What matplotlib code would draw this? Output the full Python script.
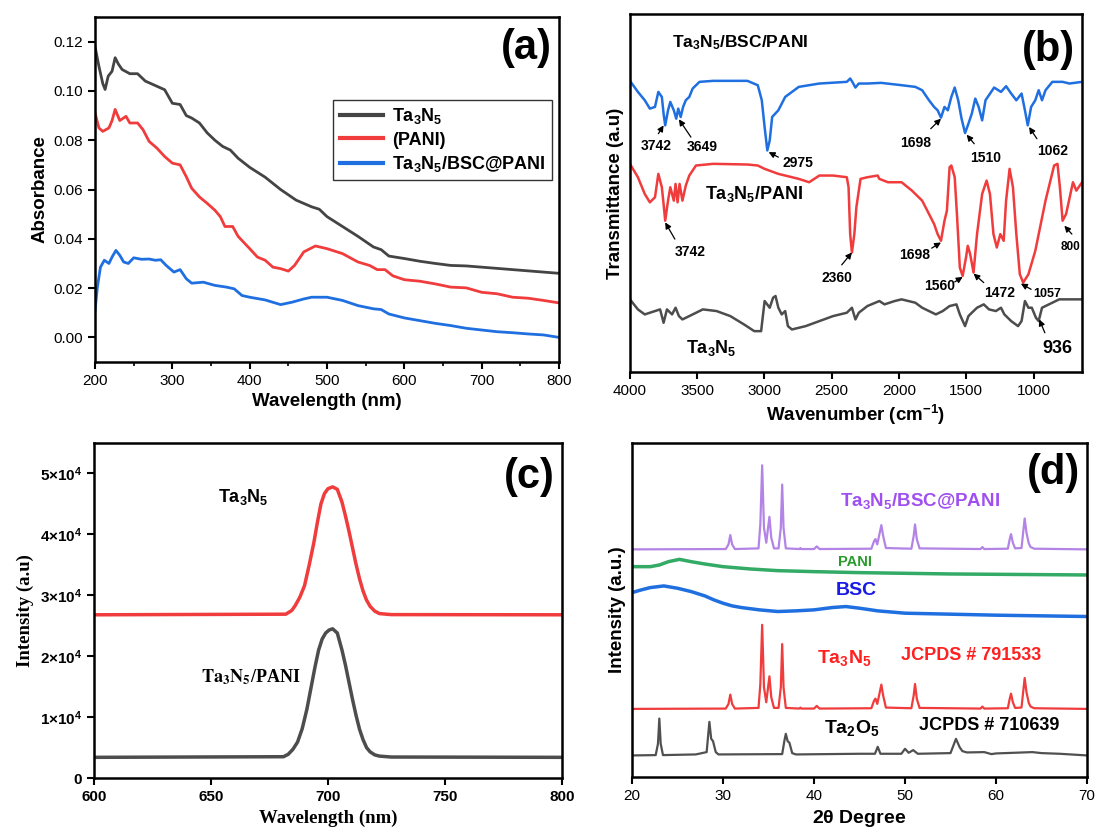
import matplotlib
matplotlib.use('Agg')
import matplotlib.pyplot as plt
from matplotlib.ticker import MultipleLocator

plt.rcParams['font.family'] = ['Liberation Sans', 'DejaVu Sans']
plt.rcParams['mathtext.fontset'] = 'custom'
plt.rcParams['mathtext.rm'] = 'Liberation Sans'
plt.rcParams['mathtext.bf'] = 'Liberation Sans:bold'
plt.rcParams['mathtext.it'] = 'Liberation Sans:italic'

# ---------------- (a) UV-vis absorbance ----------------
uv_ta3n5_x = [200, 205, 210, 213, 217, 222, 226, 230, 235, 245, 255, 265, 275, 290, 300, 310, 318, 325,
              335, 345, 355, 365, 375, 385, 400, 420, 440, 460, 480, 490, 500, 520, 540, 560, 570, 580,
              600, 620, 640, 660, 680, 700, 720, 740, 760, 780, 800]
uv_ta3n5_y = [0.118, 0.110, 0.103, 0.1006, 0.106, 0.108, 0.1135, 0.111, 0.1087, 0.107, 0.107, 0.104,
              0.1026, 0.1005, 0.095, 0.0945, 0.090, 0.089, 0.087, 0.083, 0.080, 0.0775, 0.076, 0.0727,
              0.069, 0.065, 0.060, 0.0557, 0.053, 0.052, 0.049, 0.045, 0.041, 0.0367, 0.0356, 0.033,
              0.032, 0.0309, 0.030, 0.0292, 0.029, 0.0285, 0.028, 0.0275, 0.027, 0.0265, 0.026]

uv_pani_x = [200, 205, 210, 218, 222, 226, 232, 240, 245, 255, 262, 270, 280, 290, 300, 310, 318, 325,
             335, 345, 355, 362, 368, 378, 385, 400, 410, 420, 430, 440, 450, 458, 470, 485, 500, 520,
             540, 555, 565, 575, 585, 600, 620, 640, 660, 680, 700, 720, 740, 760, 780, 800]
uv_pani_y = [0.091, 0.085, 0.0836, 0.085, 0.088, 0.0925, 0.088, 0.0897, 0.087, 0.087, 0.0843, 0.0795,
             0.0768, 0.0734, 0.0707, 0.070, 0.0652, 0.0605, 0.057, 0.0544, 0.0516, 0.049, 0.045, 0.045,
             0.041, 0.036, 0.0326, 0.0313, 0.0285, 0.0279, 0.0269, 0.0292, 0.0347, 0.0371, 0.036, 0.034,
             0.0306, 0.0292, 0.0275, 0.0275, 0.025, 0.0234, 0.0228, 0.0217, 0.0204, 0.0201, 0.0183,
             0.0177, 0.0163, 0.0159, 0.015, 0.014]

uv_comp_x = [200, 203, 207, 212, 218, 222, 227, 232, 237, 243, 250, 260, 270, 278, 285, 292, 302, 310,
             318, 325, 340, 355, 370, 380, 390, 400, 420, 440, 455, 470, 480, 500, 520, 540, 560, 570,
             580, 600, 620, 640, 660, 680, 700, 720, 740, 760, 780, 800]
uv_comp_y = [0.011, 0.0204, 0.0285, 0.0313, 0.030, 0.0326, 0.0353, 0.0333, 0.0306, 0.030, 0.0323,
             0.0317, 0.0318, 0.0313, 0.0315, 0.0292, 0.0265, 0.0275, 0.0238, 0.022, 0.0224, 0.0211,
             0.0204, 0.0197, 0.017, 0.0163, 0.0152, 0.0133, 0.0143, 0.0156, 0.0163, 0.0163, 0.015,
             0.0129, 0.0116, 0.0113, 0.0095, 0.0079, 0.0068, 0.0057, 0.0048, 0.0037, 0.003, 0.0023,
             0.0019, 0.0014, 0.0010, 0.000]

# ---------------- (b) FTIR ----------------
ir_bsc_pani = [(4000, 87.0), (3941, 83.7), (3890, 81.2), (3852, 78.7), (3814, 79.2), (3789, 83.7),
               (3763, 82.2), (3750, 77.2), (3738, 73.7), (3717, 78.2), (3700, 80.7), (3674, 78.2),
               (3656, 75.7), (3641, 78.7), (3623, 76.2), (3605, 79.2), (3585, 81.2), (3559, 82.2),
               (3534, 84.7), (3483, 86.7), (3381, 87.0), (3127, 87.0), (3050, 85.7), (3020, 81.2),
               (2999, 73.2), (2979, 66.2), (2961, 69.2), (2943, 76.2), (2897, 78.2), (2846, 82.2),
               (2745, 85.2), (2592, 86.2), (2388, 86.7), (2363, 87.7), (2347, 86.7), (2324, 85.0),
               (2299, 86.2), (2235, 86.2), (2133, 86.4), (1981, 85.7), (1879, 85.2), (1828, 84.2),
               (1777, 81.2), (1739, 79.2), (1713, 78.2), (1688, 76.0), (1662, 79.2), (1637, 78.2),
               (1611, 82.2), (1586, 85.0), (1560, 81.2), (1535, 75.7), (1509, 71.4), (1484, 74.2),
               (1459, 77.2), (1433, 81.7), (1408, 79.2), (1382, 75.2), (1357, 81.2), (1293, 85.0),
               (1242, 83.7), (1204, 85.4), (1166, 83.2), (1128, 81.2), (1089, 83.2), (1064, 78.2),
               (1043, 73.7), (1018, 79.2), (987, 81.2), (962, 84.2), (937, 81.2), (911, 84.2),
               (860, 86.7), (784, 86.7), (733, 86.2), (639, 86.7)]
ir_ta3n5_pani = [(4000, 62.2), (3941, 58.2), (3890, 53.2), (3852, 50.7), (3814, 52.2), (3789, 59.2),
                 (3763, 55.2), (3750, 50.2), (3738, 45.2), (3717, 51.2), (3700, 55.2), (3674, 51.2),
                 (3661, 56.2), (3646, 50.7), (3631, 56.2), (3610, 51.2), (3585, 55.7), (3559, 58.7),
                 (3509, 61.7), (3381, 62.2), (3127, 62.0), (3050, 61.7), (2999, 60.7), (2897, 59.2),
                 (2846, 58.7), (2745, 57.7), (2668, 56.7), (2592, 58.7), (2490, 58.7), (2388, 58.2),
                 (2375, 55.2), (2363, 41.2), (2350, 35.7), (2332, 41.2), (2317, 49.2), (2286, 57.7),
                 (2235, 58.2), (2159, 58.7), (2146, 57.7), (2082, 56.7), (1981, 56.7), (1904, 54.2),
                 (1828, 51.2), (1777, 47.2), (1739, 44.2), (1713, 41.2), (1688, 39.2), (1662, 45.2),
                 (1644, 48.2), (1624, 61.2), (1611, 61.7), (1586, 58.2), (1568, 46.2), (1548, 31.2),
                 (1527, 28.7), (1502, 34.2), (1489, 37.7), (1471, 35.2), (1446, 29.7), (1420, 41.2),
                 (1382, 53.2), (1349, 57.2), (1324, 53.2), (1298, 41.2), (1273, 37.2), (1247, 41.2),
                 (1222, 39.2), (1204, 51.2), (1178, 60.7), (1153, 55.2), (1128, 41.2), (1102, 29.2),
                 (1077, 26.7), (1038, 29.2), (987, 36.2), (911, 51.2), (847, 61.7), (822, 62.2),
                 (804, 55.2), (784, 45.2), (758, 47.2), (707, 56.7), (682, 54.2), (639, 56.7)]
ir_ta3n5 = [(4000, 21.7), (3941, 18.7), (3890, 17.2), (3852, 17.7), (3814, 18.2), (3776, 18.7),
            (3750, 14.7), (3725, 18.7), (3687, 17.2), (3661, 19.2), (3636, 16.7), (3610, 15.7),
            (3559, 16.7), (3458, 18.7), (3356, 18.2), (3254, 16.7), (3152, 14.2), (3076, 12.2),
            (3025, 12.2), (2999, 21.2), (2961, 19.2), (2936, 22.2), (2918, 22.7), (2897, 19.2),
            (2872, 17.2), (2846, 18.2), (2826, 13.7), (2796, 12.7), (2694, 13.7), (2592, 15.2),
            (2490, 16.7), (2388, 17.7), (2350, 19.2), (2324, 15.7), (2299, 17.7), (2235, 19.7),
            (2146, 21.2), (2108, 20.2), (2032, 21.2), (1981, 21.7), (1879, 20.7), (1828, 19.2),
            (1777, 18.2), (1726, 17.2), (1675, 18.2), (1624, 19.7), (1573, 20.2), (1548, 17.2),
            (1509, 13.7), (1484, 16.7), (1459, 17.7), (1420, 19.2), (1370, 20.2), (1331, 18.7),
            (1280, 18.2), (1242, 19.2), (1217, 17.2), (1166, 15.2), (1115, 13.7), (1089, 15.2),
            (1064, 21.2), (1038, 19.2), (1013, 19.2), (982, 16.2), (962, 15.2), (937, 19.2),
            (860, 20.7), (809, 21.7), (639, 21.7)]

# peak label, text position, arrow tail, arrow tip, fontsize
ir_peaks = [
    ('3742', (3806, 67.4), (3789, 71.2), (3750, 73.7), 10),
    ('3649', (3463, 67.2), (3547, 70.2), (3636, 75.5), 10),
    ('2975', (2752, 62.4), (2897, 64.2), (2969, 65.7), 10),
    ('1698', (1874, 68.4), (1764, 72.7), (1688, 75.7), 10),
    ('1510', (1357, 64.0), (1441, 68.2), (1497, 70.9), 10),
    ('1062', (860, 66.0), (975, 69.7), (1033, 73.2), 10),
    ('3742', (3554, 36.0), (3666, 39.7), (3738, 44.7), 10),
    ('2360', (2464, 28.0), (2426, 32.0), (2350, 35.7), 10),
    ('1698', (1884, 35.0), (1757, 37.0), (1688, 38.7), 10),
    ('1560', (1701, 25.7), (1586, 26.9), (1527, 28.4), 10),
    ('1472', (1255, 23.7), (1370, 26.7), (1446, 29.4), 10),
    ('1057', (898, 23.2), (1018, 24.7), (1094, 26.4), 9),
    ('800', (728, 37.2), (715, 41.2), (771, 43.7), 8.5),
    ('936', (822, 7.0), (916, 11.7), (957, 15.7), 13),
]

# ---------------- (c) PL ----------------
pl_ta3n5_x = [600, 682, 684.5, 686, 688, 690, 692, 694, 695.5, 697, 698.5, 700, 702, 704, 706, 707.5,
              709, 710.5, 712, 713.5, 715, 716.5, 718, 720, 722, 727, 800]
pl_ta3n5_y = [26800, 26900, 27500, 28300, 29700, 31600, 35000, 38700, 42000, 45000, 46700, 47500, 47800,
              47400, 45300, 43000, 40500, 37800, 35100, 32700, 30700, 29200, 28200, 27400, 27000, 26830,
              26800]
pl_pani_x = [600, 681, 683, 685, 687, 689, 691, 693, 694.5, 696, 697.5, 699, 700.5, 702, 704, 706, 707.5,
             709, 710.5, 712, 713.5, 715, 716.5, 718, 720, 722, 727, 800]
pl_pani_y = [3400, 3500, 3900, 4700, 5900, 8100, 11300, 15300, 18300, 21000, 22800, 23800, 24300, 24500,
             23800, 21000, 18500, 15700, 12900, 10300, 8000, 6300, 5000, 4300, 3800, 3600, 3450, 3400]
pl_ticks = [0, 10000, 20000, 30000, 40000, 50000]
pl_ticklabels = ['0', r'$\mathbf{1{\times}10^4}$', r'$\mathbf{2{\times}10^4}$', r'$\mathbf{3{\times}10^4}$',
                 r'$\mathbf{4{\times}10^4}$', r'$\mathbf{5{\times}10^4}$']

# ---------------- (d) XRD ----------------
xrd_nitride_x = [20, 30.3, 30.6, 30.8, 31.0, 31.3, 33.9, 34.1, 34.3, 34.5, 34.75, 34.95, 35.1, 35.3, 35.6,
                 36.1, 36.35, 36.5, 36.65, 36.9, 38.4, 38.5, 38.6, 40.0, 40.3, 40.6, 46.3, 46.6, 46.75,
                 46.95, 47.4, 47.6, 47.9, 50.7, 50.95, 51.1, 51.3, 51.6, 58.3, 58.5, 58.7, 61.3, 61.5,
                 61.65, 61.85, 62.1, 62.8, 63.0, 63.15, 63.35, 63.6, 63.8, 64.2, 70]
xrd_ta3n5_y = [20.5, 20.6, 22.0, 24.8, 22.0, 20.6, 20.8, 28, 45.8, 27, 22.5, 27, 30.3, 24, 20.8, 20.8, 27,
               40.0, 27, 20.8, 20.6, 20.9, 20.6, 20.6, 21.4, 20.6, 20.7, 23.0, 23.6, 22.0, 27.8, 24.5,
               20.9, 20.7, 24.5, 28.0, 23.5, 20.8, 20.6, 21.2, 20.6, 20.7, 23.5, 25.1, 22.5, 20.8, 20.9,
               26, 29.8, 25.5, 22.3, 21.2, 20.7, 20.5]
xrd_comp_y = [68.5, 68.6, 70.0, 72.8, 70.0, 68.6, 68.8, 76, 93.8, 75, 70.5, 75, 78.3, 72, 68.8, 68.8, 75,
              88.0, 75, 68.8, 68.6, 68.9, 68.6, 68.6, 69.4, 68.6, 68.7, 71.0, 71.6, 70.0, 75.8, 72.5,
              68.9, 68.7, 72.5, 76.0, 71.5, 68.8, 68.6, 69.2, 68.6, 68.7, 71.5, 73.1, 70.5, 68.8, 68.9,
              74, 77.8, 73.5, 70.3, 69.2, 68.7, 68.5]
xrd_oxide_x = [20, 22.6, 22.85, 23.0, 23.15, 23.4, 27.0, 28.2, 28.5, 28.7, 28.9, 29.2, 29.5, 36.5, 36.75,
               36.9, 37.1, 37.3, 37.6, 38.0, 45, 46.7, 47.0, 47.3, 49.6, 50.0, 50.4, 50.9, 51.4, 55.0,
               55.6, 56.0, 56.3, 56.8, 58.7, 59.5, 60.0, 64.0, 65.0, 67.0, 70]
xrd_oxide_y = [6.5, 6.6, 10, 17.6, 10, 6.6, 6.8, 7.5, 16.6, 11.5, 10.8, 7.5, 6.8, 6.9, 11, 13.0, 10.8,
               10.3, 7.2, 6.8, 7.0, 7.0, 9.1, 7.0, 7.0, 8.5, 7.3, 8.1, 7.0, 7.2, 11.5, 9.0, 7.8, 7.4,
               7.5, 6.9, 7.1, 7.5, 7.2, 7.0, 6.5]
xrd_pani_x = [20, 22, 23, 24, 25.2, 26.5, 28, 30, 33, 36, 40, 45, 50, 55, 60, 65, 70]
xrd_pani_y = [63.3, 63.3, 63.8, 64.8, 65.5, 64.8, 64.1, 63.3, 62.6, 62.1, 61.8, 61.5, 61.3, 61.1, 61.0,
              60.9, 60.8]
xrd_bsc_x = [20, 21, 22, 23.5, 25, 26.5, 28, 29, 30, 31, 32, 34, 36, 38, 40, 42, 43.5, 45, 47, 50, 55, 60,
             65, 70]
xrd_bsc_y = [55.5, 56.3, 57.0, 57.5, 56.8, 55.8, 54.5, 53.3, 52.3, 51.5, 51.0, 50.3, 49.8, 50.0, 50.3,
             51.0, 51.3, 50.8, 50.0, 49.3, 49.0, 48.7, 48.5, 48.3]

TA3N5 = r'$\mathbf{Ta_3N_5}$'
GRAY = '#444444'
RED = '#f03c3c'
BLUE = '#1f6fe0'
LABEL_FS = 13.5


def style_axes(ax):
    for s in ax.spines.values():
        s.set_linewidth(1.8)
    ax.tick_params(direction='out', length=5, width=1.5, labelsize=11)
    ax.tick_params(which='minor', direction='out', length=3, width=1.2)


fig = plt.figure(figsize=(10.95, 8.34), dpi=100)

# (a)
ax = fig.add_axes([0.0868, 0.5659, 0.4237, 0.4137])
ax.plot(uv_ta3n5_x, uv_ta3n5_y, color=GRAY, lw=2, label=TA3N5)
ax.plot(uv_pani_x, uv_pani_y, color=RED, lw=2, label='(PANI)')
ax.plot(uv_comp_x, uv_comp_y, color=BLUE, lw=2, label=TA3N5 + '/BSC@PANI')
ax.set_xlim(200, 800)
ax.set_ylim(-0.01, 0.13)
ax.set_yticks([0, 0.02, 0.04, 0.06, 0.08, 0.10, 0.12])
ax.yaxis.set_major_formatter(plt.FormatStrFormatter('%.2f'))
ax.xaxis.set_minor_locator(MultipleLocator(50))
style_axes(ax)
ax.set_xlabel('Wavelength (nm)', fontsize=LABEL_FS, fontweight='bold')
ax.set_ylabel('Absorbance', fontsize=LABEL_FS, fontweight='bold')
leg = ax.legend(loc='upper right', bbox_to_anchor=(0.985, 0.76), prop={'weight': 'bold', 'size': 13},
                fancybox=False, edgecolor='#333333', framealpha=1, handlelength=2.4,
                borderpad=0.35, labelspacing=0.3, handletextpad=0.5, borderaxespad=0)
for l in leg.get_lines():
    l.set_linewidth(3)
ax.text(0.985, 0.91, '(a)', transform=ax.transAxes, ha='right', va='center', fontsize=30,
        fontweight='bold')

# (b)
ax = fig.add_axes([0.5753, 0.554, 0.4128, 0.4293])
for data, col in [(ir_bsc_pani, BLUE), (ir_ta3n5_pani, RED), (ir_ta3n5, '#4d4d4d')]:
    ax.plot([p[0] for p in data], [p[1] for p in data], color=col, lw=1.8)
ax.set_xlim(4000, 640)
ax.set_ylim(0, 107)
ax.set_yticks([])
ax.set_xticks([4000, 3500, 3000, 2500, 2000, 1500, 1000])
style_axes(ax)
ax.set_xlabel(r'Wavenumber (cm$^{\mathbf{-1}}$)', fontsize=LABEL_FS, fontweight='bold')
ax.set_ylabel('Transmittance (a.u)', fontsize=LABEL_FS, fontweight='bold')
for lab, txt, tail, tip, fs in ir_peaks:
    ax.text(txt[0], txt[1], lab, ha='center', va='center', fontsize=fs, fontweight='bold')
    ax.annotate('', xy=tip, xytext=tail,
                arrowprops=dict(arrowstyle='-|>', color='k', lw=0.9, mutation_scale=9,
                                shrinkA=0, shrinkB=0))
ax.text(3183, 98.4, TA3N5 + '/BSC/PANI', ha='center', va='center', fontsize=12.5, fontweight='bold')
ax.text(3076, 53.2, TA3N5 + '/PANI', ha='center', va='center', fontsize=13, fontweight='bold')
ax.text(3394, 7.2, TA3N5, ha='center', va='center', fontsize=13, fontweight='bold')
ax.text(0.985, 0.9, '(b)', transform=ax.transAxes, ha='right', va='center', fontsize=30,
        fontweight='bold')

# (c)
ax = fig.add_axes([0.0858, 0.0671, 0.4274, 0.4017])
ax.plot(pl_ta3n5_x, pl_ta3n5_y, color=RED, lw=2.5)
ax.plot(pl_pani_x, pl_pani_y, color='#4d4d4d', lw=2.5)
ax.set_xlim(600, 800)
ax.set_ylim(0, 55000)
ax.set_yticks(pl_ticks)
ax.set_yticklabels(pl_ticklabels)
ax.set_xticks([600, 650, 700, 750, 800])
style_axes(ax)
for t in ax.get_xticklabels() + ax.get_yticklabels():
    t.set_fontweight('bold')
ax.set_xlabel('Wavelength (nm)', fontsize=LABEL_FS, fontweight='bold', family='Liberation Serif')
ax.set_ylabel('Intensity (a.u)', fontsize=LABEL_FS, fontweight='bold', family='Liberation Serif')
ax.text(664, 46200, TA3N5, ha='center', va='center', fontsize=13, fontweight='bold')
ax.text(667, 16600, r'$\mathbf{Ta_3N_5}$/PANI', ha='center', va='center', fontsize=13,
        fontweight='bold', family='Liberation Serif', math_fontfamily='stix')
ax.text(0.985, 0.9, '(c)', transform=ax.transAxes, ha='right', va='center', fontsize=30,
        fontweight='bold')

# (d)
ax = fig.add_axes([0.5772, 0.0683, 0.4155, 0.4005])
ax.plot(xrd_nitride_x, xrd_comp_y, color='#b383e6', lw=1.6)
ax.plot(xrd_pani_x, xrd_pani_y, color='#33aa66', lw=2.5)
ax.plot(xrd_bsc_x, xrd_bsc_y, color=BLUE, lw=2.5)
ax.plot(xrd_nitride_x, xrd_ta3n5_y, color=RED, lw=1.6)
ax.plot(xrd_oxide_x, xrd_oxide_y, color='#505050', lw=1.6)
ax.set_xlim(20, 70)
ax.set_ylim(0, 100.5)
ax.set_yticks([])
style_axes(ax)
ax.set_xlabel(r'2$\mathbf{\theta}$ Degree', fontsize=14, fontweight='bold')
ax.set_ylabel('Intensity (a.u.)', fontsize=LABEL_FS, fontweight='bold')
ax.text(51.6, 83.0, TA3N5 + '/BSC@PANI', color='#a050f0', ha='center', va='center', fontsize=13.5,
        fontweight='bold')
ax.text(44.5, 64.8, 'PANI', color='#2a9a2a', ha='center', va='center', fontsize=10.5, fontweight='bold')
ax.text(44.7, 56.0, 'BSC', color='#1a1ae6', ha='center', va='center', fontsize=14, fontweight='bold')
ax.text(43.3, 35.8, TA3N5, color='#ff2020', ha='center', va='center', fontsize=14, fontweight='bold')
ax.text(57.3, 36.5, 'JCPDS # 791533', color='#ff2020', ha='center', va='center', fontsize=13,
        fontweight='bold')
ax.text(44.1, 14.8, r'$\mathbf{Ta_2O_5}$', color='k', ha='center', va='center', fontsize=14,
        fontweight='bold')
ax.text(59.2, 15.5, 'JCPDS # 710639', color='k', ha='center', va='center', fontsize=13,
        fontweight='bold')
ax.text(0.985, 0.91, '(d)', transform=ax.transAxes, ha='right', va='center', fontsize=30,
        fontweight='bold')

fig.savefig('out.png', dpi=100)
